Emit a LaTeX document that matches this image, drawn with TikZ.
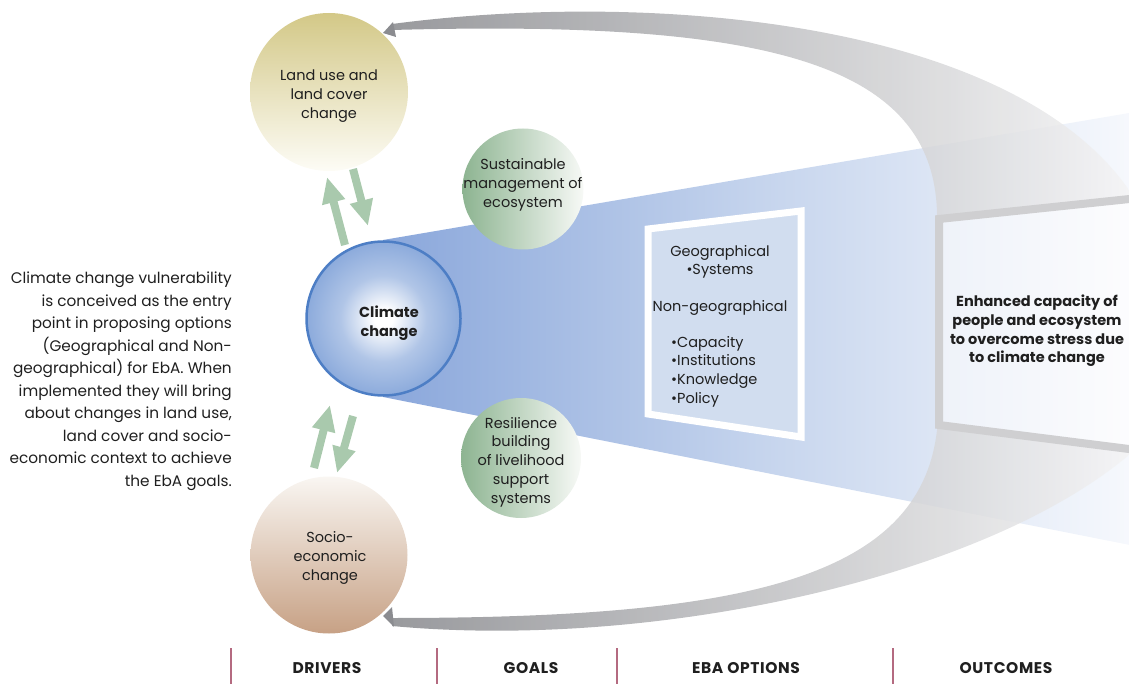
\documentclass[tikz,border=0pt]{standalone}
\usepackage{fontspec}
\setmainfont{Poppins}
\usetikzlibrary{arrows.meta}
\definecolor{txt}{HTML}{1F1F1F}
\definecolor{funA}{HTML}{8AA7DB}
\definecolor{funB}{HTML}{C5D4ED}
\definecolor{funC}{HTML}{F7F9FD}
\definecolor{greyA}{HTML}{8B8C90}
\definecolor{greyB}{HTML}{F4F4F5}
\definecolor{landtop}{HTML}{D3C887}
\definecolor{landbot}{HTML}{FDFCF6}
\definecolor{sociotop}{HTML}{F9F6F2}
\definecolor{sociobot}{HTML}{C7A185}
\definecolor{greenL}{HTML}{8DB491}
\definecolor{greenR}{HTML}{F7F9F6}
\definecolor{climblue}{HTML}{7096D3}
\definecolor{climborder}{HTML}{4D7EC5}
\definecolor{boxblue}{HTML}{D1DDEF}
\definecolor{framegrey}{HTML}{CFCFD1}
\definecolor{obA}{HTML}{EEF2F9}
\definecolor{obB}{HTML}{FDFDFE}
\definecolor{arrgreen}{HTML}{A9C9AD}
\definecolor{sepcol}{HTML}{B46A80}
\pgfdeclareradialshading{climshade}{\pgfpoint{0bp}{0bp}}{color(0bp)=(white); color(3bp)=(white); color(14bp)=(climblue!55!white); color(30bp)=(climblue!92!white); color(50bp)=(climblue)}
\begin{document}
\begin{tikzpicture}[x=1pt,y=-1pt,
  every node/.style={text=txt, font=\fontsize{14.5}{18.7}\selectfont},
  lbl/.style={align=center, inner sep=0pt},
  boldlbl/.style={align=center, inner sep=0pt, font=\fontsize{14.5}{18.7}\selectfont\bfseries},
  headlbl/.style={inner sep=0pt, font=\fontsize{15.5}{18}\selectfont\bfseries\addfontfeature{LetterSpace=4}},
  disc/.style={circle, inner sep=0pt, minimum size=#1},
  garrow/.style={draw=arrgreen, line width=8pt, -{Triangle[width=22pt,length=26pt]}},
  sepline/.style={draw=sepcol, line width=1.6pt}
]
\useasboundingbox (0,0) rectangle (1129,684);
\begin{scope}
\clip (0,0) rectangle (1129,684);
% funnel
\shade[left color=funA, right color=funC, middle color=funB]
  (383,240) -- (1135,112) -- (1135,546) -- (383,397) -- cycle;
% grey crescent
\shade[left color=greyA, right color=greyB, fill opacity=0.88]
  (392,24) .. controls (650,-10) and (1010,20) .. (1129,190)
  -- (1129,455)
  .. controls (980,580) and (650,650) .. (392,626)
  -- (392,618)
  .. controls (740,618) and (920,580) .. (937,430)
  -- (937,215)
  .. controls (935,60) and (760,20) .. (392,30) -- cycle;
\fill[greyA] (383,33) -- (393,22) -- (396,37) -- cycle;
\fill[greyA] (383,616) -- (392,607) -- (394,627) -- cycle;
% outcome box
\draw[line width=8pt, draw=framegrey, left color=obA, right color=obB]
  (1140,197.9) -- (939,219) -- (939,425) -- (1140,450.4) -- cycle;
\end{scope}
% EbA options box
\draw[white, line width=7pt, fill=boxblue] (648,229) -- (801,211) -- (801,437) -- (648,414) -- cycle;
% circles
\node[disc=158, top color=landtop, bottom color=landbot] (land) at (329,92) {};
\node[disc=157, top color=sociotop, bottom color=sociobot] (socio) at (329,555) {};
\node[disc=121, left color=greenL, right color=greenR] (sust) at (523,189) {};
\node[disc=120, left color=greenL, right color=greenR] (resil) at (521,458) {};
\node[disc=154, shading=climshade, draw=climborder, line width=2.5pt] (clim) at (383.5,318.5) {};
% labels
\node[lbl] (landtxt) at (329,96) {Land use and\\land cover\\change};
\node[lbl] (sociotxt) at (330,558) {Socio-\\economic\\change};
\node[lbl] (susttxt) at (523,185) {Sustainable\\management of\\ecosystem};
\node[lbl] (resiltxt) at (521,462) {Resilience\\building\\of livelihood\\support\\systems};
\node[boldlbl] (climtxt) at (389,323) {Climate\\change};
\node[lbl] (geo) at (720,262) {Geographical\\•Systems};
\node[lbl] (nongeo) at (720,308) {Non-geographical};
\node[align=left, inner sep=0pt, anchor=north west] (list) at (671,336) {•Capacity\\•Institutions\\•Knowledge\\•Policy};
\node[boldlbl] (outtxt) at (1037,331) {Enhanced capacity of\\people and ecosystem\\to overcome stress due\\to climate change};
\node[align=right, inner sep=0pt, anchor=east, font=\fontsize{15.3}{22.5}\selectfont] (desc) at (232,381) {Climate change vulnerability\\is conceived as the entry\\point in proposing options\\(Geographical and Non-\\geographical) for EbA. When\\implemented they will bring\\about changes in land use,\\land cover and socio-\\economic context to achieve\\the EbA goals.};
% green arrows
\coordinate (u1s) at (345,245); \coordinate (u1e) at (327,177);
\coordinate (d1s) at (353,169); \coordinate (d1e) at (368,226);
\coordinate (u2s) at (314,468); \coordinate (u2e) at (330,405);
\coordinate (d2s) at (353,416); \coordinate (d2e) at (337,473);
\draw[garrow] (u1s) -- (u1e);
\draw[garrow] (d1s) -- (d1e);
\draw[garrow] (u2s) -- (u2e);
\draw[garrow] (d2s) -- (d2e);
% bottom headings
\coordinate (s1a) at (231,648); \coordinate (s1b) at (231,684);
\coordinate (s2a) at (437,648); \coordinate (s2b) at (437,684);
\coordinate (s3a) at (617,648); \coordinate (s3b) at (617,684);
\coordinate (s4a) at (893,648); \coordinate (s4b) at (893,684);
\draw[sepline] (s1a) -- (s1b);
\draw[sepline] (s2a) -- (s2b);
\draw[sepline] (s3a) -- (s3b);
\draw[sepline] (s4a) -- (s4b);
\node[headlbl] (drivers) at (327,668) {DRIVERS};
\node[headlbl] (goals) at (531,668) {GOALS};
\node[headlbl] (ebaopt) at (746,668) {EBA OPTIONS};
\node[headlbl] (outc) at (1006,668) {OUTCOMES};
\end{tikzpicture}
\end{document}
